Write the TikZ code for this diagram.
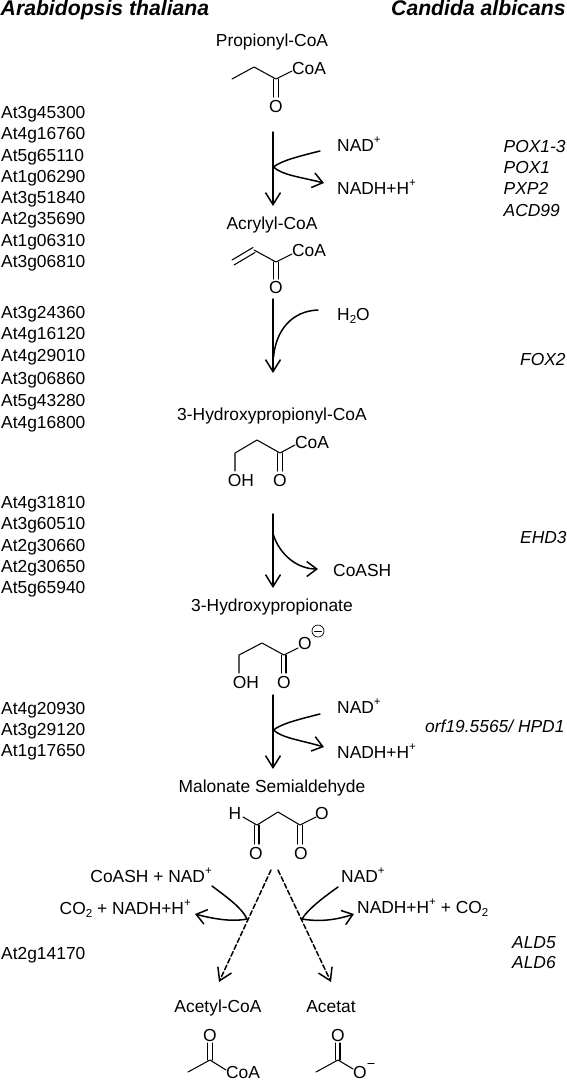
\documentclass[tikz,border=0pt]{standalone}
\usepackage{fontspec}
\setmainfont{Liberation Sans}
\usetikzlibrary{arrows.meta}
\newcommand{\chemup}[1]{\raisebox{7.5pt}{\fontsize{11.5}{11.5}\selectfont #1}}
\newcommand{\chemdown}[1]{\raisebox{-3.3pt}{\fontsize{11.5}{11.5}\selectfont #1}}
\tikzset{
  txt/.style={inner sep=0pt,text height=12.3pt,text depth=0pt,font=\fontsize{17.4}{20}\selectfont},
  gene/.style={txt,anchor=west},
  enz/.style={txt,anchor=west,font=\fontsize{17.4}{20}\selectfont\itshape},
  head/.style={txt,anchor=west,text height=15pt,font=\fontsize{21.2}{24}\selectfont\bfseries\itshape},
  bond/.style={line width=1.05pt},
  mainarrow/.style={line width=1.5pt,-{Straight Barb[length=12pt,width=15pt,line width=1.5pt]}},
  side/.style={line width=1.5pt},
  sideout/.style={line width=1.5pt,-{Straight Barb[length=10pt,width=15pt,line width=1.5pt]}},
  dasharrow/.style={mainarrow,dash pattern=on 5pt off 2.5pt}
}
\begin{document}
\begin{tikzpicture}[x=1pt,y=-1pt,line cap=round,line join=round]
\useasboundingbox (0,0) rectangle (566,1080);

% headers
\node[head] (hA) at (0.5,7.7) {Arabidopsis thaliana};
\node[head] (hC) at (391,7.7) {Candida albicans};

% Arabidopsis genes
\node[gene] (g1) at (1,112) {At3g45300};
\node[gene] (g2) at (1,133) {At4g16760};
\node[gene] (g3) at (1,155) {At5g65110};
\node[gene] (g4) at (1,176) {At1g06290};
\node[gene] (g5) at (1,197) {At3g51840};
\node[gene] (g6) at (1,218) {At2g35690};
\node[gene] (g7) at (1,240) {At1g06310};
\node[gene] (g8) at (1,261) {At3g06810};
\node[gene] (g9) at (1,312) {At3g24360};
\node[gene] (g10) at (1,333) {At4g16120};
\node[gene] (g11) at (1,355) {At4g29010};
\node[gene] (g12) at (1,378) {At3g06860};
\node[gene] (g13) at (1,400) {At5g43280};
\node[gene] (g14) at (1,422) {At4g16800};
\node[gene] (g15) at (1,502) {At4g31810};
\node[gene] (g16) at (1,523) {At3g60510};
\node[gene] (g17) at (1,545) {At2g30660};
\node[gene] (g18) at (1,566) {At2g30650};
\node[gene] (g19) at (1,587) {At5g65940};
\node[gene] (g20) at (1,708) {At4g20930};
\node[gene] (g21) at (1,729) {At3g29120};
\node[gene] (g22) at (1,750) {At1g17650};
\node[gene] (g23) at (1,953) {At2g14170};

% Candida genes
\node[enz] (c1) at (503.5,146) {POX1-3};
\node[enz] (c2) at (503.5,167) {POX1};
\node[enz] (c3) at (503.5,188.5) {PXP2};
\node[enz] (c4) at (503.5,210) {ACD99};
\node[enz] (c5) at (520,359) {FOX2};
\node[enz] (c6) at (520,537) {EHD3};
\node[enz] (c7) at (425,726) {orf19.5565/ HPD1};
\node[enz] (c8) at (512,942) {ALD5};
\node[enz] (c9) at (512,962) {ALD6};

% names of the compounds
\node[txt] (m1) at (272,40) {Propionyl-CoA};
\node[txt] (m2) at (272,223) {Acrylyl-CoA};
\node[txt] (m3) at (272,414) {3-Hydroxypropionyl-CoA};
\node[txt] (m4) at (272,605) {3-Hydroxypropionate};
\node[txt] (m5) at (272,786) {Malonate Semialdehyde};
\node[txt] (m6) at (218,1006) {Acetyl-CoA};
\node[txt] (m7) at (331,1006) {Acetat};

% propionyl-CoA
\node[txt] (a1) at (309,68) {CoA};
\node[txt] (a2) at (276,106) {O};
\draw[bond] (232,79)--(254,67)--(276,79)--(292,71);
\draw[bond] (273.5,79)--(273.5,97) (278.5,79)--(278.5,97);

% acrylyl-CoA
\node[txt] (b1) at (309,250) {CoA};
\node[txt] (b2) at (276,287) {O};
\draw[bond] (254,250)--(276,262)--(292,254);
\draw[bond] (232,260)--(253,247.5) (234,265)--(255,252.5);
\draw[bond] (273.5,262)--(273.5,279) (278.5,262)--(278.5,279);

% 3-hydroxypropionyl-CoA
\node[txt] (d1) at (312,442) {CoA};
\node[txt] (d2) at (280,480) {O};
\node[txt] (d3) at (241,480) {OH};
\draw[bond] (235,471)--(235,453)--(257,440)--(280,453)--(295,445);
\draw[bond] (277.5,453)--(277.5,471) (282.5,453)--(282.5,471);

% 3-hydroxypropionate
\node[txt] (e1) at (305,643) {O};
\node[txt] (e2) at (284,682) {O};
\node[txt] (e3) at (246,682) {OH};
\node[circle,draw,line width=0.7pt,minimum size=12pt,inner sep=0pt] (e4) at (318,631) {};
\draw[line width=0.7pt] (314.5,631)--(321.5,631);
\draw[bond] (239,673)--(239,655)--(262,643)--(284,655)--(298,648);
\draw[bond] (281.5,655)--(281.5,673) (286,655)--(286,673);

% malonate semialdehyde
\node[txt] (f1) at (235,813) {H};
\node[txt] (f2) at (322,813) {O};
\node[txt] (f3) at (256,853) {O};
\node[txt] (f4) at (301,853) {O};
\draw[bond] (243,817)--(257,825)--(278,812)--(300,825)--(316,817);
\draw[bond] (254.5,825)--(254.5,844) (259,825)--(259,844);
\draw[bond] (297.5,825)--(297.5,844) (302.5,825)--(302.5,844);

% acetyl-CoA
\node[txt] (h1) at (210,1035) {O};
\node[txt] (h2) at (243,1072.5) {CoA};
\draw[bond] (188,1072)--(210,1060)--(226,1070);
\draw[bond] (207.5,1060)--(207.5,1043) (212.5,1060)--(212.5,1043);

% acetate
\node[txt] (k1) at (338,1035) {O};
\node[txt] (k2) at (360,1072.5) {O};
\node[inner sep=0pt,minimum width=6pt] (k3) at (371,1063) {};
\draw[line width=0.8pt] (k3.west)--(k3.east);
\draw[bond] (316,1072)--(338,1060)--(353,1069);
\draw[bond] (335.5,1060)--(335.5,1043) (340,1060)--(340,1043);

% cofactors
\node[txt,anchor=west] (n1) at (337,145) {NAD\chemup{+}};
\node[txt,anchor=west] (n2) at (337,188) {NADH+H\chemup{+}};
\node[txt,anchor=west] (n3) at (337,314) {H\chemdown{2}O};
\node[txt,anchor=west] (n4) at (333,570) {CoASH};
\node[txt,anchor=west] (n5) at (337,707) {NAD\chemup{+}};
\node[txt,anchor=west] (n6) at (337,752) {NADH+H\chemup{+}};
\node[txt,anchor=east] (n7) at (212,876) {CoASH + NAD\chemup{+}};
\node[txt,anchor=east] (n8) at (191,908) {CO\chemdown{2} + NADH+H\chemup{+}};
\node[txt,anchor=west] (n9) at (341,876) {NAD\chemup{+}};
\node[txt,anchor=west] (n10) at (357,907) {NADH+H\chemup{+} + CO\chemdown{2}};

% end points of the arrows
\coordinate (s1) at (273,132);
\coordinate (t1) at (273,206);
\coordinate (u1) at (320,151);
\coordinate (v1) at (273.5,167);
\coordinate (w1) at (324,183);
\coordinate (s2) at (273,299);
\coordinate (t2) at (273,373);
\coordinate (u2) at (318,310);
\coordinate (v2) at (273.5,357);
\coordinate (s3) at (273,514);
\coordinate (t3) at (273,588);
\coordinate (v3) at (273.5,535);
\coordinate (w3) at (318,569);
\coordinate (s4) at (273,695);
\coordinate (t4) at (273,769);
\coordinate (u4) at (320,714);
\coordinate (v4) at (273.5,730);
\coordinate (w4) at (324,747);
\coordinate (s5) at (271,870);
\coordinate (t5) at (219,982);
\coordinate (u5) at (212,886);
\coordinate (v5) at (247,919);
\coordinate (w5) at (195,914);
\coordinate (s6) at (278,870);
\coordinate (t6) at (331,982);
\coordinate (u6) at (338,887);
\coordinate (v6) at (302,919);
\coordinate (w6) at (354,914);

% main arrows
\draw[mainarrow] (s1)--(t1);
\draw[mainarrow] (s2)--(t2);
\draw[mainarrow] (s3)--(t3);
\draw[mainarrow] (s4)--(t4);
\draw[dasharrow] (s5)--(t5);
\draw[dasharrow] (s6)--(t6);

% side arrows
\draw[side] (u1) .. controls (296,157) and (281,161) .. (v1);
\draw[sideout] (v1) .. controls (282,175) and (300,177) .. (w1);
\draw[side] (u2) .. controls (292,311) and (276,330) .. (v2);
\draw[sideout] (v3) .. controls (279,553) and (296,569) .. (w3);
\draw[side] (u4) .. controls (296,720) and (281,724) .. (v4);
\draw[sideout] (v4) .. controls (282,738) and (300,740) .. (w4);
\draw[side] (u5) .. controls (228,898) and (242,908) .. (v5);
\draw[sideout] (v5) .. controls (232,922) and (214,919) .. (w5);
\draw[side] (u6) .. controls (324,897) and (308,909) .. (v6);
\draw[sideout] (v6) .. controls (320,922) and (336,920) .. (w6);

\end{tikzpicture}
\end{document}
